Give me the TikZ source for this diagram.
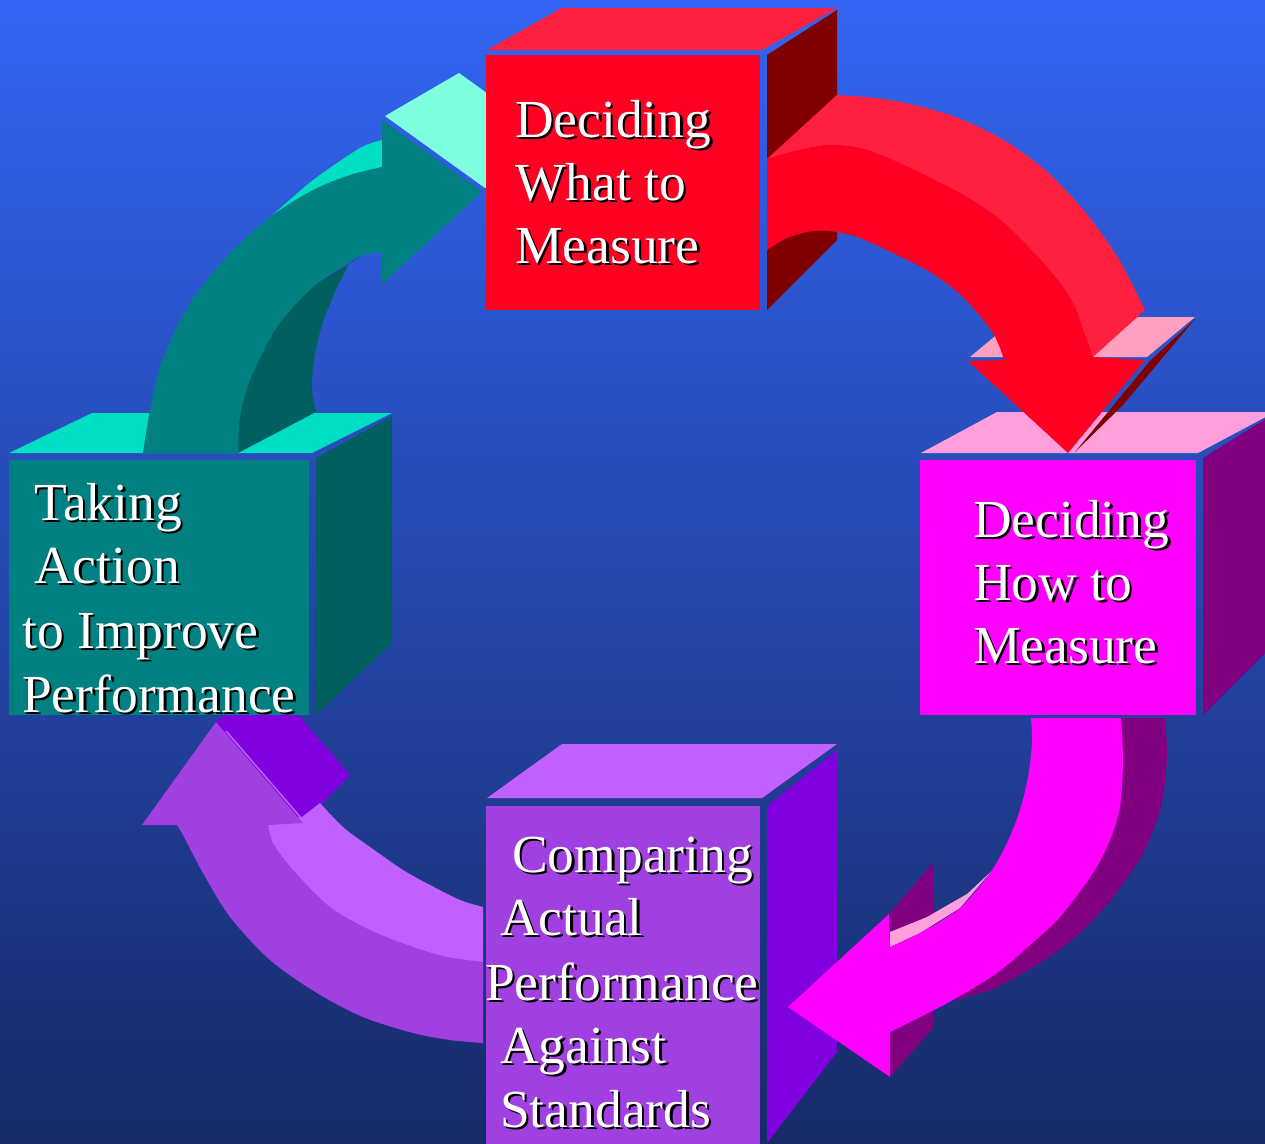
\documentclass[tikz,border=0pt]{standalone}
\usepackage{fontspec}
\setmainfont{Liberation Serif}
% background
\definecolor{bgTop}{RGB}{51,101,243}
\definecolor{bgBot}{RGB}{23,42,103}
% red cube and arrow
\definecolor{redF}{RGB}{255,0,34}
\definecolor{redT}{RGB}{255,32,64}
\definecolor{redS}{RGB}{128,0,0}
\definecolor{redW}{RGB}{255,160,192}
% magenta cube and arrow
\definecolor{magF}{RGB}{255,0,255}
\definecolor{magT}{RGB}{255,160,220}
\definecolor{magS}{RGB}{128,0,128}
% teal cube and arrow
\definecolor{tealF}{RGB}{0,128,128}
\definecolor{tealT}{RGB}{0,222,196}
\definecolor{tealS}{RGB}{0,96,96}
\definecolor{tealW}{RGB}{128,255,224}
% purple cube and arrow
\definecolor{purF}{RGB}{160,64,224}
\definecolor{purT}{RGB}{192,96,255}
\definecolor{purS}{RGB}{128,0,224}

% one line of label text with a dark drop shadow
\newcommand\tline[4]{%
  \node[lbl, text=black] (#1s) at (#2+2.5,#3+2.5) {#4};
  \node[lbl] (#1) at (#2,#3) {#4};}

\begin{document}
\begin{tikzpicture}[x=1pt,y=-1pt,
  lbl/.style={anchor=base west, inner sep=0pt, text=white,
              font=\fontsize{53.5}{64}\selectfont}]
\clip (0,0) rectangle (1265,1143);
\shade[top color=bgTop, bottom color=bgBot] (0,0) rectangle (1265,1143);

% ---------- purple cube (bottom) ----------
\fill[purT] (487,798) -- (562,744) -- (837,744) -- (762,798) -- cycle;
\fill[purS] (767,806) -- (837,750) -- (837,1052) -- (767,1143) -- cycle;
\fill[purF] (486,806) rectangle (760,1150);

% ---------- purple arrow (up to the teal cube) ----------
\fill[purS] (216,722) -- (303,823) -- (350,775) -- (263,674) -- cycle;
\draw[purT, line width=1.5pt] (226,731) -- (302,819);
\fill[purT] (250,822) -- (302,817) -- (320,803)
  -- plot[smooth] coordinates {(320,803) (343,827) (370,847) (403,870) (430,885) (460,900) (483,907)}
  -- (483,990) -- (400,965) -- (300,900) -- (250,840) -- cycle;
\fill[purF] plot[smooth] coordinates {(483,1043) (450,1040) (413,1033) (363,1017) (317,993) (270,960) (230,917) (203,873) (183,835) (177,825)}
  -- (142,825) -- (216,722) -- (303,823) -- (268,825)
  -- plot[smooth] coordinates {(268,825) (273,843) (293,870) (330,907) (370,930) (413,947) (447,957) (483,962)}
  -- cycle;

% ---------- teal cube (left) ----------
\fill[tealT] (9,453) -- (92,413) -- (392,413) -- (312,453) -- cycle;
\fill[tealS] (316,458) -- (392,416) -- (392,643) -- (316,715) -- cycle;
\fill[tealF] (9,460) rectangle (309,715);

% ---------- teal arrow (up to the red cube) ----------
\fill[tealW] (385,116) -- (459,73) -- (559,145) -- (485,188) -- cycle;
\fill[tealT] plot[smooth] coordinates {(268,219) (293,197) (317,177) (360,148) (382,140)}
  -- (382,170) -- (300,210) -- (250,240) -- cycle;
\fill[tealS] (238,453) -- (316,412)
  -- plot[smooth] coordinates {(316,412) (312,390) (314,360) (322,325) (335,292) (350,262)}
  -- (363,255) -- (290,300) -- (250,360) -- (232,420) -- cycle;
\fill[tealF] plot[smooth] coordinates {(143,453) (150,410) (160,367) (177,327) (197,293) (230,253) (270,217) (313,190) (350,175) (382,167)}
  -- (382,120) -- (482,192) -- (382,284) -- (382,252)
  -- plot[smooth] coordinates {(382,252) (363,255) (347,263) (313,287) (277,327) (250,380) (240,417) (238,453)}
  -- cycle;

% ---------- red cube (top) ----------
\fill[redT] (487,50) -- (562,8) -- (837,8) -- (762,50) -- cycle;
\fill[redS] (767,55) -- (837,10) -- (837,240) -- (767,310) -- cycle;
\fill[redF] (486,55) rectangle (760,310);

% ---------- magenta cube (right) ----------
\fill[magT] (921,453) -- (997,412) -- (1275,412) -- (1198,453) -- cycle;
\fill[magS] (1203,458) -- (1275,413) -- (1275,643) -- (1203,715) -- cycle;
\fill[magF] (920,460) rectangle (1196,715);

% ---------- red arrow (down to the magenta cube) ----------
\fill[redW] (970,357) -- (1147,357) -- (1195,317) -- (1018,317) -- cycle;
\fill[redS] (1150,361) -- (1195,319) -- (1123,405) -- (1075,452) -- cycle;
\fill[redT] (767,159) -- (837,95)
  -- plot[smooth] coordinates {(837,95) (890,100) (950,115) (1000,138) (1045,170) (1085,212) (1118,258) (1145,310)}
  -- (1093,357)
  -- plot[smooth] coordinates {(1093,357) (1073,303) (1047,267) (1003,222) (960,193) (893,160) (860,148) (830,145) (800,150) (767,159)}
  -- cycle;
\fill[redF] plot[smooth] coordinates {(767,159) (800,150) (830,145) (860,148) (893,160) (960,193) (1003,222) (1047,267) (1073,303) (1093,357)}
  -- (1145,360) -- (1068,453) -- (968,361) -- (1004,360)
  -- plot[smooth] coordinates {(1004,360) (993,333) (963,297) (930,272) (893,253) (860,238) (837,232) (813,231) (787,238) (767,250)}
  -- cycle;

% ---------- magenta arrow (down to the purple cube) ----------
\fill[magS] (889,914) -- (933,863) -- (933,1028) -- (890,1077) -- cycle;
\fill[magS] (1121,718) -- (1165,718)
  -- plot[smooth] coordinates {(1165,718) (1167,760) (1160,810) (1142,855) (1113,897) (1080,933) (1040,963) (995,988) (955,1000)}
  -- (1060,917) -- (1110,840) -- cycle;
\fill[magT] (890,932) -- (927,917) -- (967,894) -- (995,868) -- (990,873) -- (960,908) -- (920,933) -- (890,947) -- cycle;
\fill[magF] (1031,718) -- (1121,718)
  -- plot[smooth] coordinates {(1121,718) (1123,760) (1120,807) (1110,840) (1093,873) (1060,917) (1030,945) (997,973) (953,1000) (920,1017) (890,1032)}
  -- (890,1077) -- (788,1007) -- (889,914) -- (890,947)
  -- plot[smooth] coordinates {(890,947) (920,933) (960,908) (990,873) (1007,843) (1020,810) (1028,777) (1032,743) (1031,718)}
  -- cycle;

% ---------- labels ----------
\tline{wa}{515}{137}{Deciding}
\tline{wb}{515}{200}{What to}
\tline{wc}{515}{263}{Measure}

\tline{ha}{973}{537}{Deciding}
\tline{hb}{973}{600}{How to}
\tline{hc}{973}{663}{Measure}

\tline{ca}{512}{872}{Comparing}
\tline{cb}{500}{935}{Actual}
\tline{cc}{485}{1000}{Performance}
\tline{cd}{500}{1063}{Against}
\tline{ce}{500}{1127}{Standards}

\tline{ta}{34}{520}{Taking}
\tline{tb}{34}{583}{Action}
\tline{tc}{22}{648}{to Improve}
\tline{td}{22}{712}{Performance}
\end{tikzpicture}
\end{document}
